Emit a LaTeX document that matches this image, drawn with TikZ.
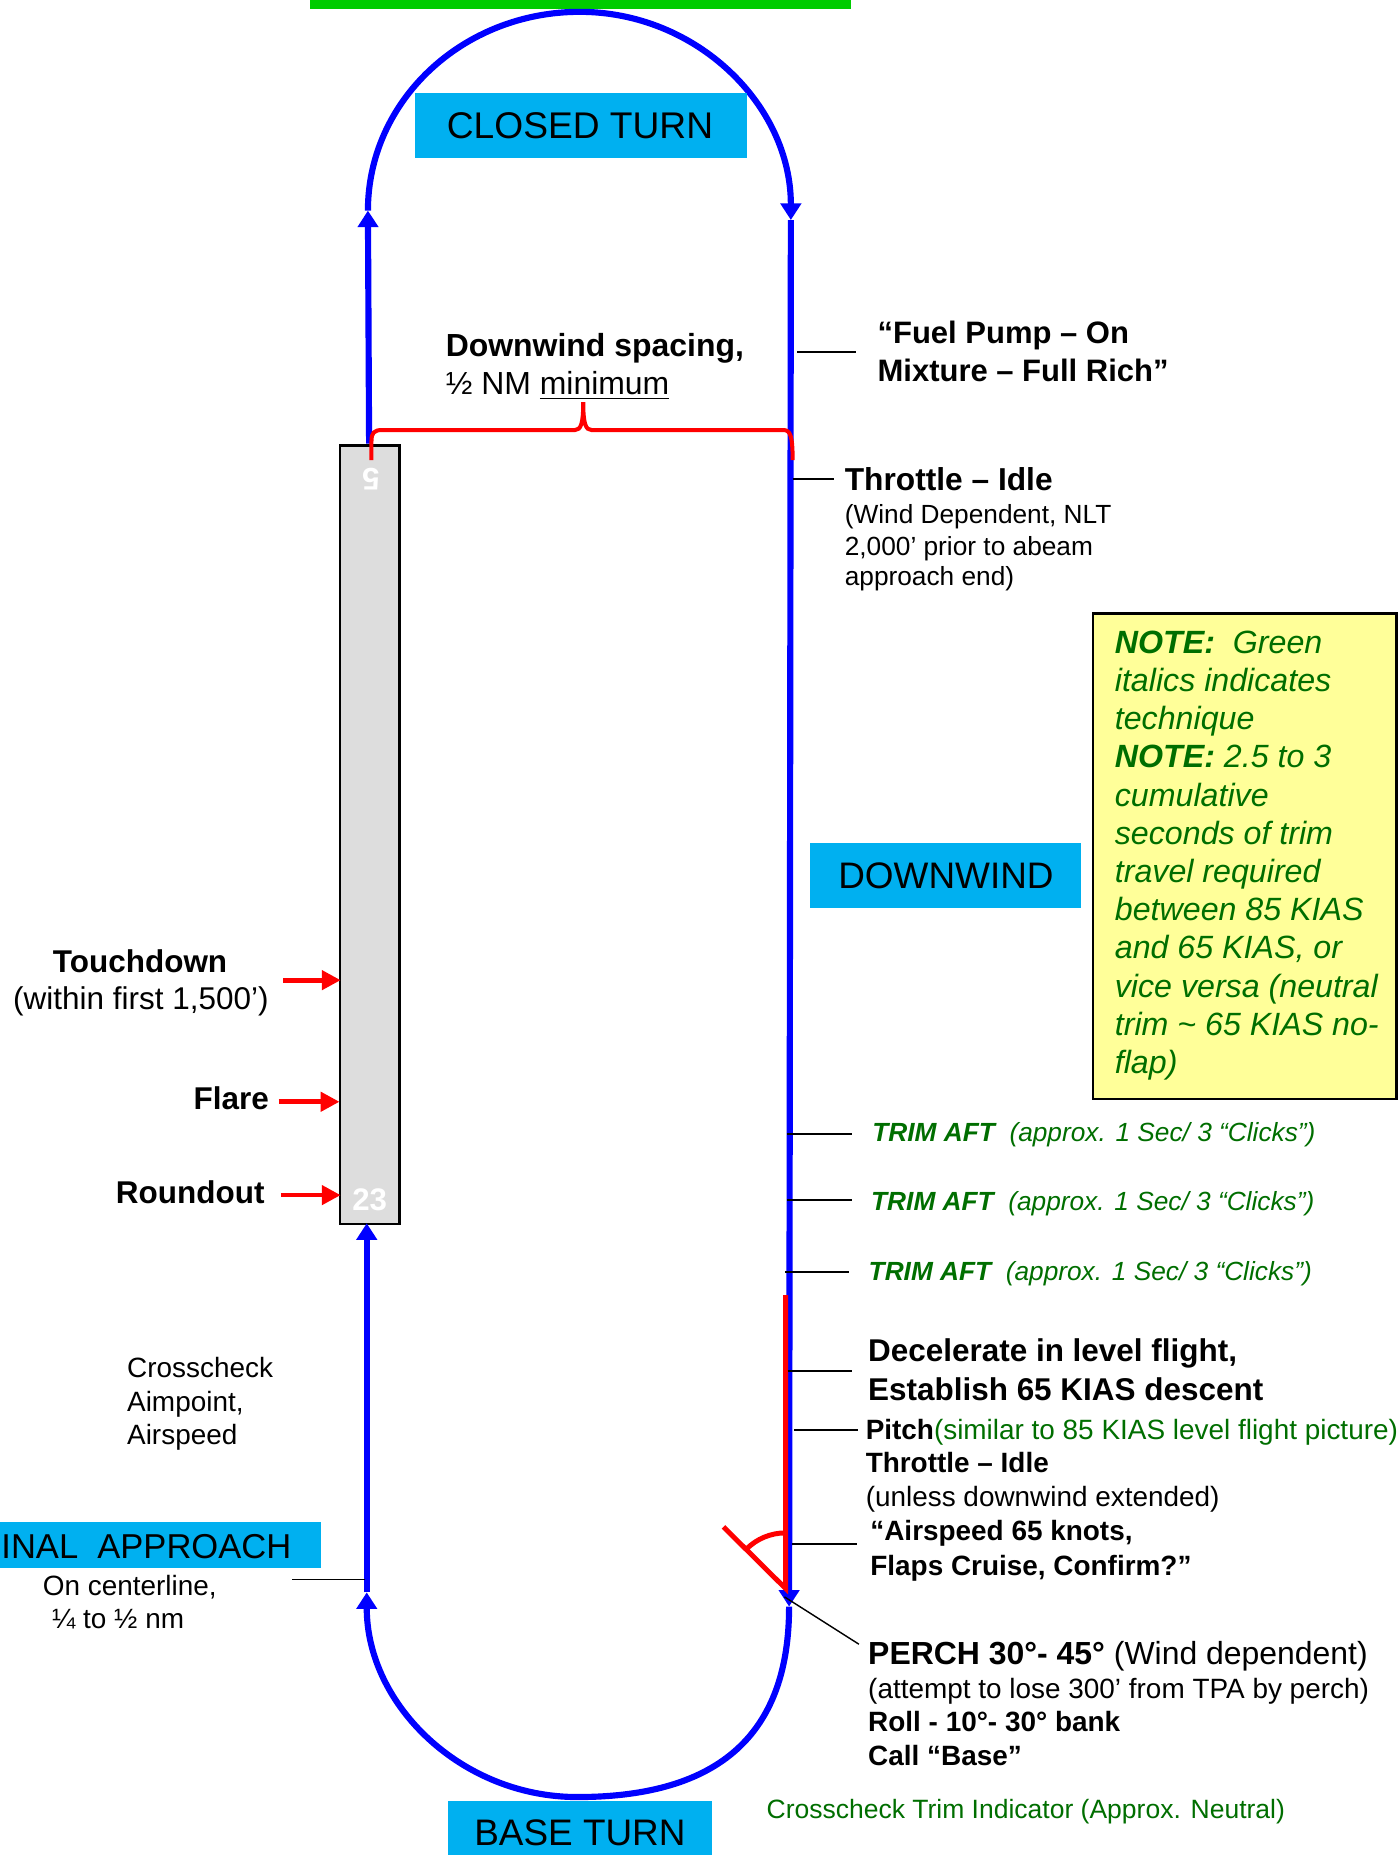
\documentclass[tikz,border=0pt]{standalone}
\usepackage{fontspec}
\setmainfont{Liberation Sans}
\usetikzlibrary{arrows.meta}
\definecolor{pblue}{RGB}{0,0,255}
\definecolor{pred}{RGB}{255,0,0}
\definecolor{pcyan}{RGB}{0,176,240}
\definecolor{pgreen}{RGB}{0,110,0}
\definecolor{pbar}{RGB}{0,204,0}
\definecolor{pyellow}{RGB}{255,255,153}
\definecolor{pgray}{RGB}{221,221,221}
\newcommand\myfs[1]{\fontsize{#1}{#1}\selectfont}
\tikzset{
  lab/.style={inner sep=0pt, anchor=base west},
  labr/.style={inner sep=0pt, anchor=base east},
  labc/.style={inner sep=0pt, anchor=base},
  flight/.style={draw=pblue, line width=2.6pt, -{Triangle[length=7pt,width=8.5pt]}},
  redarrow/.style={draw=pred, line width=2pt, -{Triangle[length=8pt,width=8pt]}},
  redline/.style={draw=pred, line width=1.7pt},
  tick/.style={draw=black, line width=0.75pt},
  notetxt/.style={lab, font=\myfs{13.6}\itshape, text=pgreen},
}
\begin{document}
\begin{tikzpicture}[x=0.5pt,y=-0.5pt]
\useasboundingbox (0,0) rectangle (1181,1568);

% top green bar
\fill[pbar] (262,0) rectangle (719.4,7.6);

% runway
\node (rwy) [draw, fill=pgray, line width=1pt, minimum width=25pt, minimum height=329pt,
  anchor=north west, inner sep=0pt] at (286.6,375.6) {};
\node (rw5) [inner sep=0pt, rotate=180, text=white, font=\myfs{13.2}\bfseries] at (313.5,405) {5};
\node (rw23) [inner sep=0pt, text=white, font=\myfs{13.2}\bfseries] at (312.5,1014) {23};

% flight path coordinates
\coordinate (upB) at (312,375);
\coordinate (upT) at (311,178);
\coordinate (ctTop) at (490,10);
\coordinate (dwT) at (668.5,186);
\coordinate (dwB) at (667,1358);
\coordinate (btBot) at (488,1519);
\coordinate (fnB) at (310,1346);
\coordinate (fnT) at (310,1034);

\draw[flight] (upB) -- (upT);
\draw[flight] (upT) .. controls (311,85.2) and (391.1,10) .. (ctTop)
  .. controls (588.9,10) and (668.5,88.8) .. (dwT);
\draw[flight] (dwT) -- (dwB);
\draw[flight] (dwB) .. controls (667,1465) and (609,1519) .. (btBot)
  .. controls (390,1519) and (310,1441) .. (fnB);
\draw[flight] (fnB) -- (fnT);

% label boxes
\fill[pcyan] (351,78.9) rectangle (631.5,133.3);
\node (closed) [labc, font=\myfs{15.7}] at (490.3,117) {CLOSED TURN};
\fill[pcyan] (684.8,712.9) rectangle (913.6,767.3);
\node (down) [labc, font=\myfs{15.6}] at (799.6,751) {DOWNWIND};
\fill[pcyan] (0,1286.9) rectangle (271.1,1325);
\node (final) [lab, font=\myfs{14.6}] at (0.8,1317.4) {INAL\ \ APPROACH};
\fill[pcyan] (378.5,1522.5) rectangle (601.8,1568);
\node (base) [labc, font=\myfs{15.6}] at (490.2,1559.7) {BASE TURN};

% red bracket
\coordinate (brL) at (314,389);
\coordinate (brR) at (670,389);
\draw[redline] (brL) -- (314,373) .. controls (314,366) and (316,363.5) .. (323,363.5)
  -- (486,363.5) .. controls (491,363.5) and (493,358) .. (493,340)
  .. controls (493,358) and (495,363.5) .. (500,363.5)
  -- (662,363.5) .. controls (668,363.5) and (670,368) .. (brR);

% downwind spacing
\node (dws1) [lab, font=\myfs{13.5}\bfseries] at (376.4,301) {Downwind spacing,};
\node (dws2) [lab, font=\myfs{13.5}] at (376.4,333.4) {½ NM \underline{minimum}};

% fuel pump
\coordinate (fuA) at (673.8,297.3); \coordinate (fuB) at (723.4,297.3);
\draw[tick] (fuA) -- (fuB);
\node (fuel1) [lab, font=\myfs{13.1}\bfseries] at (741.4,290.3) {“Fuel Pump – On};
\node (fuel2) [lab, font=\myfs{13.1}\bfseries] at (741.4,322.7) {Mixture – Full Rich”};

% throttle idle
\coordinate (thA) at (670,405.2); \coordinate (thB) at (705,405.2);
\draw[tick] (thA) -- (thB);
\node (thr1) [lab, font=\myfs{13.4}\bfseries] at (713.7,414.8) {Throttle – Idle};
\node (thr2) [lab, font=\myfs{11.1}] at (713.7,442.4) {(Wind Dependent, NLT};
\node (thr3) [lab, font=\myfs{11.1}] at (713.7,469.2) {2,000’ prior to abeam};
\node (thr4) [lab, font=\myfs{11.1}] at (713.7,495.1) {approach end)};

% note box
\node (note) [draw, fill=pyellow, line width=1pt, minimum width=128.2pt, minimum height=205pt,
  anchor=north west, inner sep=0pt] at (922.9,517.7) {};
\node (n0) [notetxt] at (942,552.3) {\bfseries NOTE:\mdseries\ \ Green};
\node (n1) [notetxt] at (942,584.6) {italics indicates};
\node (n2) [notetxt] at (942,616.9) {technique};
\node (n3) [notetxt] at (942,649.1) {\bfseries NOTE:\mdseries\ 2.5 to 3};
\node (n4) [notetxt] at (942,681.4) {cumulative};
\node (n5) [notetxt] at (942,713.7) {seconds of trim};
\node (n6) [notetxt] at (942,746.0) {travel required};
\node (n7) [notetxt] at (942,778.3) {between 85 KIAS};
\node (n8) [notetxt] at (942,810.5) {and 65 KIAS, or};
\node (n9) [notetxt] at (942,842.8) {vice versa (neutral};
\node (n10) [notetxt] at (942,875.1) {trim \textasciitilde{} 65 KIAS no-};
\node (n11) [notetxt] at (942,907.4) {flap)};

% touchdown / flare / roundout
\node (td1) [labc, font=\myfs{13.3}\bfseries] at (118.4,822.3) {Touchdown};
\node (td2) [labc, font=\myfs{13.3}] at (119.1,853.4) {(within first 1,500’)};
\node (fl) [labr, font=\myfs{13.3}\bfseries] at (227.7,937.8) {Flare};
\node (ro) [labr, font=\myfs{13.3}\bfseries] at (224,1017.3) {Roundout};
\coordinate (tdA) at (239.5,828.5); \coordinate (tdB) at (288,828.5);
\coordinate (flA) at (235.6,931.3); \coordinate (flB) at (287,931.3);
\coordinate (roA) at (237.5,1010.2); \coordinate (roB) at (288,1010.2);
\draw[redarrow] (tdA) -- (tdB);
\draw[redarrow] (flA) -- (flB);
\draw[redarrow] (roA) -- (roB);

% trim aft
\coordinate (t1A) at (665.1,958.4); \coordinate (t1B) at (719.9,958.4);
\coordinate (t2A) at (665.1,1014.2); \coordinate (t2B) at (719.9,1014.2);
\coordinate (t3A) at (663.8,1075.3); \coordinate (t3B) at (718,1075.3);
\draw[tick] (t1A) -- (t1B);
\draw[tick] (t2A) -- (t2B);
\draw[tick] (t3A) -- (t3B);
\node (trim1) [lab, font=\myfs{11.1}\itshape, text=pgreen] at (737,965.1) {\bfseries TRIM AFT\ \ \mdseries(approx. 1 Sec/ 3 “Clicks”)};
\node (trim2) [lab, font=\myfs{11.1}\itshape, text=pgreen] at (736,1022.9) {\bfseries TRIM AFT\ \ \mdseries(approx. 1 Sec/ 3 “Clicks”)};
\node (trim3) [lab, font=\myfs{11.1}\itshape, text=pgreen] at (733.9,1082.1) {\bfseries TRIM AFT\ \ \mdseries(approx. 1 Sec/ 3 “Clicks”)};

% red descent mark
\coordinate (rdTop) at (664,1094.7);
\coordinate (rdV) at (664,1342.7);
\coordinate (rdD) at (611.5,1290.6);
\draw[redline, line width=2.1pt] (rdTop) -- (rdV) -- (rdD);
\draw[redline, line width=2.1pt] (664,1295.7) .. controls (651.5,1295.7) and (639.6,1300.7) .. (630.8,1309.5);

% decelerate
\coordinate (deA) at (665.7,1159); \coordinate (deB) at (719.9,1159);
\draw[tick] (deA) -- (deB);
\node (dec1) [lab, font=\myfs{13.3}\bfseries] at (733.4,1151.1) {Decelerate in level flight,};
\node (dec2) [lab, font=\myfs{13.3}\bfseries] at (733.4,1183.5) {Establish 65 KIAS descent};

% pitch
\coordinate (piA) at (671.5,1208.9); \coordinate (piB) at (725.6,1208.9);
\draw[tick] (piA) -- (piB);
\node (pit) [lab, font=\myfs{11.8}] at (731.4,1216.8) {\textbf{Pitch}\textcolor{pgreen}{(similar to 85 KIAS level flight picture)}};
\node (thr5) [lab, font=\myfs{11.8}\bfseries] at (731.4,1245) {Throttle – Idle};
\node (unl) [lab, font=\myfs{11.8}] at (731.4,1273.7) {(unless downwind extended)};

% airspeed
\coordinate (aiA) at (669.6,1305.3); \coordinate (aiB) at (724.8,1305.3);
\draw[tick] (aiA) -- (aiB);
\node (air1) [lab, font=\myfs{11.8}\bfseries] at (735.3,1302.4) {“Airspeed 65 knots,};
\node (air2) [lab, font=\myfs{11.8}\bfseries] at (735.3,1331.5) {Flaps Cruise, Confirm?”};

% perch
\coordinate (peA) at (663.1,1349.8); \coordinate (peB) at (726,1389.8);
\draw[draw=black, line width=0.6pt] (peA) -- (peB);
\node (pe1) [lab, font=\myfs{13.5}] at (733.5,1406.7) {\textbf{PERCH 30°- 45°} (Wind dependent)};
\node (pe2) [lab, font=\myfs{11.8}] at (733.5,1435.7) {(attempt to lose 300’ from TPA by perch)};
\node (pe3) [lab, font=\myfs{11.8}\bfseries] at (733.5,1463.9) {Roll - 10°- 30° bank};
\node (pe4) [lab, font=\myfs{11.8}\bfseries] at (733.5,1492.1) {Call “Base”};
\node (xtrim) [lab, font=\myfs{11.2}, text=pgreen] at (647.6,1537.2) {Crosscheck Trim Indicator (Approx. Neutral)};

% final approach side texts
\node (cc1) [lab, font=\myfs{11.8}] at (107.1,1164.3) {Crosscheck};
\node (cc2) [lab, font=\myfs{11.8}] at (107.1,1192.8) {Aimpoint,};
\node (cc3) [lab, font=\myfs{11.8}] at (107.1,1221) {Airspeed};
\coordinate (fiA) at (247.1,1335.1); \coordinate (fiB) at (308.6,1335.1);
\draw[tick] (fiA) -- (fiB);
\node (oc1) [lab, font=\myfs{11.8}] at (35.8,1348.4) {On centerline,};
\node (oc2) [lab, font=\myfs{11.8}] at (43.7,1376.5) {¼ to ½ nm};
\end{tikzpicture}
\end{document}
